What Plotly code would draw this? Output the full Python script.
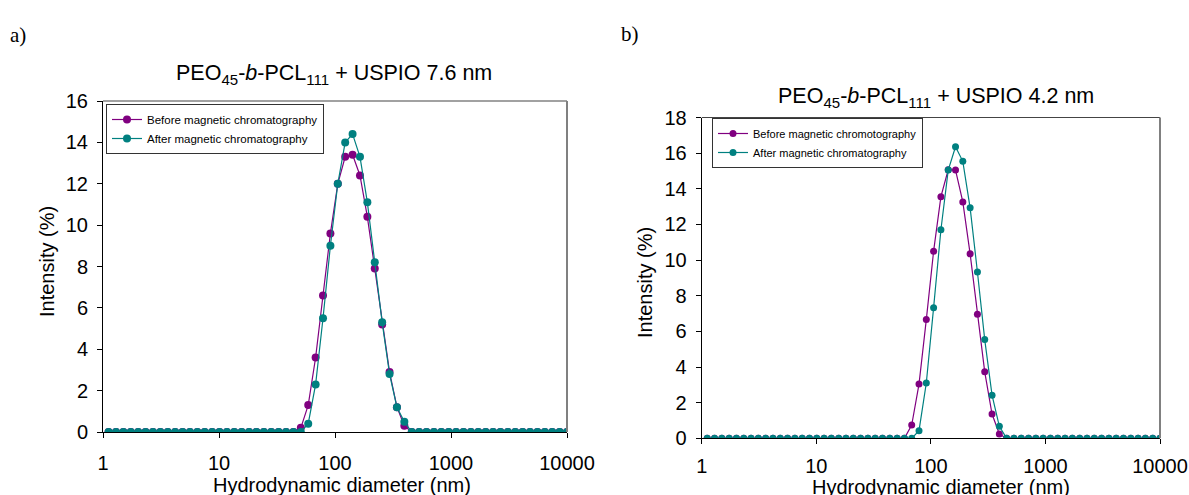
import plotly.graph_objects as go

# Hydrodynamic diameter bins (nm)
diameter_nm = [1.117, 1.294, 1.499, 1.736, 2.010, 2.328, 2.696, 3.122, 3.615, 4.187,
               4.849, 5.615, 6.503, 7.531, 8.721, 10.10, 11.70, 13.54, 15.69, 18.17,
               21.04, 24.36, 28.21, 32.67, 37.84, 43.82, 50.75, 58.77, 68.06, 78.82,
               91.28, 105.7, 122.4, 141.8, 164.2, 190.1, 220.2, 255.0, 295.3, 342.0,
               396.1, 458.7, 531.2, 615.1, 712.4, 825.0, 955.4, 1106, 1281, 1484,
               1718, 1990, 2305, 2669, 3091, 3580, 4145, 4801, 5560, 6439,
               7456, 8635, 10000]

Z26 = [0.0] * 26
Z22 = [0.0] * 22
Z28 = [0.0] * 28
Z29 = [0.0] * 29

# Panel a) PEO45-b-PCL111 + USPIO 7.6 nm
a_before = Z26 + [0.2, 1.3, 3.6, 6.6, 9.6, 12.0, 13.3, 13.4, 12.4, 10.4, 7.9, 5.2, 2.9, 1.2, 0.3] + Z22
a_after = Z26 + [0.0, 0.4, 2.3, 5.5, 9.0, 12.0, 14.0, 14.4, 13.3, 11.1, 8.2, 5.3, 2.8, 1.2, 0.5] + Z22

# Panel b) PEO45-b-PCL111 + USPIO 4.2 nm
b_before = Z28 + [0.74, 3.04, 6.66, 10.5, 13.56, 15.07, 15.05, 13.26, 10.35, 6.96, 3.73, 1.36, 0.24] + Z22
b_after = Z29 + [0.43, 3.1, 7.33, 11.7, 15.05, 16.36, 15.54, 12.93, 9.33, 5.54, 2.42, 0.67] + Z22

x_ticks = [1, 10, 100, 1000, 10000]
x_ticktext = ["1", "10", "100", "1000", "10000"]
a_yticks = [0, 2, 4, 6, 8, 10, 12, 14, 16]
b_yticks = [0, 2, 4, 6, 8, 10, 12, 14, 16, 18]

PURPLE = "#800080"
TEAL = "#008080"
W, H = 1189, 495
FONT = "Liberation Sans, Arial, sans-serif"
SERIF = "Liberation Serif, Times New Roman, serif"


def px(x):
    return x / W


def py(y):
    return 1 - y / H


fig = go.Figure()

# panel a
fig.add_trace(go.Scatter(x=diameter_nm, y=a_before, mode="lines+markers",
                         name="Before magnetic chromatography",
                         line=dict(color=PURPLE, width=1.2),
                         marker=dict(color=PURPLE, size=8),
                         xaxis="x", yaxis="y", legend="legend"))
fig.add_trace(go.Scatter(x=diameter_nm, y=a_after, mode="lines+markers",
                         name="After magnetic chromatography",
                         line=dict(color=TEAL, width=1.2),
                         marker=dict(color=TEAL, size=8),
                         xaxis="x", yaxis="y", legend="legend"))
# panel b
fig.add_trace(go.Scatter(x=diameter_nm, y=b_before, mode="lines+markers",
                         name="Before magnetic chromotography",
                         line=dict(color=PURPLE, width=1.2),
                         marker=dict(color=PURPLE, size=7),
                         xaxis="x2", yaxis="y2", legend="legend2"))
fig.add_trace(go.Scatter(x=diameter_nm, y=b_after, mode="lines+markers",
                         name="After magnetic chromatography",
                         line=dict(color=TEAL, width=1.2),
                         marker=dict(color=TEAL, size=7),
                         xaxis="x2", yaxis="y2", legend="legend2"))

xcommon = dict(type="log", range=[0, 4], tickvals=x_ticks, ticktext=x_ticktext,
               showgrid=False, zeroline=False, showline=True, linecolor="black",
               linewidth=1, ticks="outside", ticklen=5, tickcolor="black",
               tickfont=dict(family=FONT, size=20, color="black"),
               automargin=False)
ycommon = dict(showgrid=False, zeroline=False, showline=True, linecolor="black",
               linewidth=1, ticks="outside", ticklen=5, tickcolor="black",
               tickfont=dict(family=FONT, size=20, color="black"),
               ticklabelstandoff=5, automargin=False)

fig.update_layout(
    width=W, height=H, autosize=False,
    margin=dict(l=0, r=0, t=0, b=0, autoexpand=False),
    paper_bgcolor="white", plot_bgcolor="white",
    font=dict(family=FONT, color="black"),
    xaxis=dict(domain=[px(103), px(567)], anchor="y", ticklabelstandoff=8, **xcommon),
    yaxis=dict(domain=[py(432), py(101)], anchor="x", range=[0, 16], tickvals=a_yticks, **ycommon),
    xaxis2=dict(domain=[px(701.7), px(1160)], anchor="y2", ticklabelstandoff=5, **xcommon),
    yaxis2=dict(domain=[py(438.3), py(117.5)], anchor="x2", range=[0, 18], tickvals=b_yticks, **ycommon),
    legend=dict(x=px(106), y=py(104), xanchor="left", yanchor="top",
                bordercolor="#333333", borderwidth=1, bgcolor="white",
                font=dict(family=FONT, size=11.5, color="black"),
                tracegroupgap=0, itemwidth=30),
    legend2=dict(x=px(712), y=py(118), xanchor="left", yanchor="top",
                 bordercolor="#333333", borderwidth=1, bgcolor="white",
                 font=dict(family=FONT, size=11, color="black"),
                 tracegroupgap=0, itemwidth=30),
    showlegend=True,
)

# frame top/right lines
for xr, yr in (("x domain", "y domain"), ("x2 domain", "y2 domain")):
    fig.add_shape(type="line", xref=xr, yref=yr, x0=0, x1=1, y0=1, y1=1,
                  line=dict(color="#444444", width=1.2))
    fig.add_shape(type="line", xref=xr, yref=yr, x0=1, x1=1, y0=0, y1=1,
                  line=dict(color="#808080", width=2))

annots = [
    dict(text="a)", x=px(8), y=py(35), xanchor="left", font=dict(family=SERIF, size=21)),
    dict(text="b)", x=px(619), y=py(34), xanchor="left", font=dict(family=SERIF, size=21)),
    dict(text="PEO<sub>45</sub>-<i>b</i>-PCL<sub>111</sub> + USPIO 7.6 nm", x=px(334), y=py(75),
         xanchor="center", font=dict(family=FONT, size=21.5)),
    dict(text="PEO<sub>45</sub>-<i>b</i>-PCL<sub>111</sub> + USPIO 4.2 nm", x=px(936), y=py(97),
         xanchor="center", font=dict(family=FONT, size=21.5)),
    dict(text="Intensity (%)", x=px(47), y=py(262), xanchor="center", textangle=-90,
         font=dict(family=FONT, size=20)),
    dict(text="Intensity (%)", x=px(645), y=py(283), xanchor="center", textangle=-90,
         font=dict(family=FONT, size=20)),
    dict(text="Hydrodynamic diameter (nm)", x=px(342), y=py(485), xanchor="center",
         font=dict(family=FONT, size=20)),
    dict(text="Hydrodynamic diameter (nm)", x=px(941), y=py(487), xanchor="center",
         font=dict(family=FONT, size=20)),
]
for a in annots:
    fig.add_annotation(xref="paper", yref="paper", yanchor="middle", showarrow=False, **a)

fig.write_html("out.html", config={"displayModeBar": False},
               post_script="document.body.style.margin='0';document.body.style.overflow='hidden';")
